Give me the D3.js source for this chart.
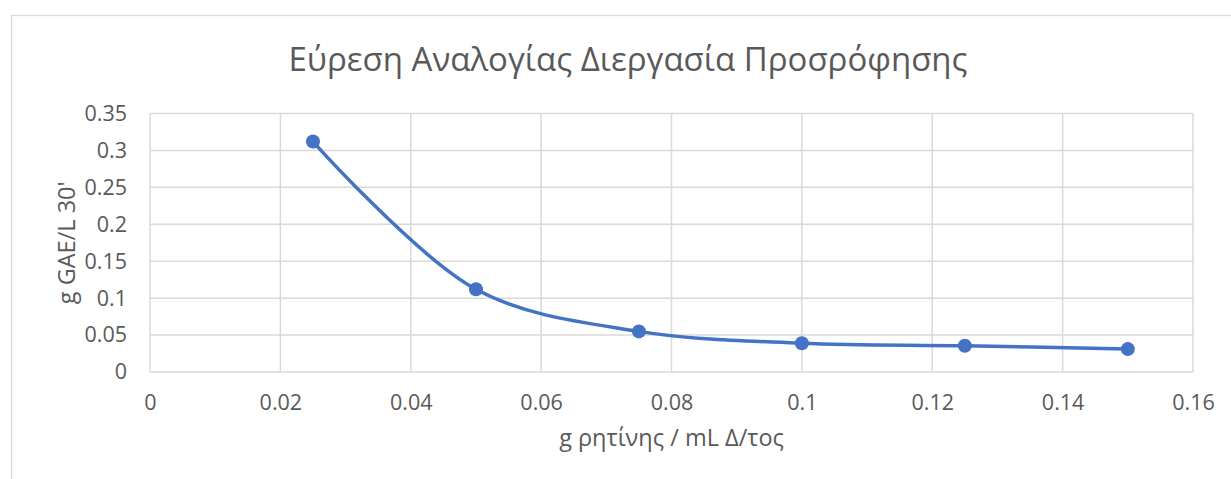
<!DOCTYPE html>
<html>
<head>
<meta charset="utf-8">
<script src="https://cdn.jsdelivr.net/npm/d3@7"></script>
<style>
  body { margin: 0; background: #fff; }
  svg text { font-family: "Open Sans", "Noto Sans", sans-serif; fill: #595959; }
</style>
</head>
<body>
<div id="chart"></div>
<script>
// data
const xValues = [0.025, 0.05, 0.075, 0.1, 0.125, 0.15];
const yValues = [0.312, 0.112, 0.055, 0.039, 0.0355, 0.031];
const xTicks = [0, 0.02, 0.04, 0.06, 0.08, 0.1, 0.12, 0.14, 0.16];
const yTicks = [0, 0.05, 0.1, 0.15, 0.2, 0.25, 0.3, 0.35];
const title = "Εύρεση Αναλογίας Διεργασία Προσρόφησης";
const xTitle = "g ρητίνης / mL Δ/τος";
const yTitle = "g GAE/L 30'";

const width = 1231, height = 479;
const margin = { top: 113.5, right: 38, bottom: 107, left: 150 };
const innerW = width - margin.left - margin.right;
const innerH = height - margin.top - margin.bottom;

const svg = d3.select("#chart")
  .append("svg")
  .attr("width", width)
  .attr("height", height);

// chart frame (clipped at the right and bottom like the screenshot)
svg.append("rect")
  .attr("x", 11.5)
  .attr("y", 15.5)
  .attr("width", 1260)
  .attr("height", 500)
  .attr("fill", "none")
  .attr("stroke", "#d9d9d9")
  .attr("stroke-width", 1.3);

const g = svg.append("g")
  .attr("transform", `translate(${margin.left},${margin.top})`);

// scales
const x = d3.scaleLinear().domain([0, 0.16]).range([0, innerW]);
const y = d3.scaleLinear().domain([0, 0.35]).range([innerH, 0]);

// gridlines
g.append("g")
  .selectAll("line.vgrid")
  .data(xTicks)
  .enter().append("line")
  .attr("class", "vgrid")
  .attr("x1", d => x(d)).attr("x2", d => x(d))
  .attr("y1", 0).attr("y2", innerH)
  .attr("stroke", "#d9d9d9")
  .attr("stroke-width", 1.5);

g.append("g")
  .selectAll("line.hgrid")
  .data(yTicks)
  .enter().append("line")
  .attr("class", "hgrid")
  .attr("x1", 0).attr("x2", innerW)
  .attr("y1", d => y(d)).attr("y2", d => y(d))
  .attr("stroke", "#d9d9d9")
  .attr("stroke-width", 1.5);

// axes
const xAxis = d3.axisBottom(x).tickValues(xTicks).tickSize(0).tickPadding(23).tickFormat(d3.format("~g"));
const yAxis = d3.axisLeft(y).tickValues(yTicks).tickSize(0).tickPadding(23).tickFormat(d3.format("~g"));

g.append("g")
  .attr("class", "x-axis")
  .attr("transform", `translate(0,${innerH})`)
  .call(xAxis)
  .call(a => a.select(".domain").remove())
  .selectAll("text")
  .style("font-size", "21.5px")
  .attr("fill", "#595959");

g.append("g")
  .attr("class", "y-axis")
  .call(yAxis)
  .call(a => a.select(".domain").remove())
  .selectAll("text")
  .style("font-size", "21.5px")
  .attr("fill", "#595959");

// line
const line = d3.line()
  .x((d, i) => x(xValues[i]))
  .y(d => y(d))
  .curve(d3.curveCatmullRom.alpha(0.5));

g.append("path")
  .datum(yValues)
  .attr("d", line)
  .attr("fill", "none")
  .attr("stroke", "#4472c4")
  .attr("stroke-width", 3.5)
  .attr("stroke-linecap", "round");

g.selectAll("circle.pt")
  .data(yValues)
  .enter().append("circle")
  .attr("class", "pt")
  .attr("cx", (d, i) => x(xValues[i]))
  .attr("cy", d => y(d))
  .attr("r", 7)
  .attr("fill", "#4472c4");

// titles
svg.append("text")
  .attr("x", 628)
  .attr("y", 71)
  .attr("text-anchor", "middle")
  .style("font-size", "33px")
  .text(title);

svg.append("text")
  .attr("x", margin.left + innerW / 2)
  .attr("y", 446)
  .attr("text-anchor", "middle")
  .style("font-size", "23.5px")
  .text(xTitle);

svg.append("text")
  .attr("transform", `translate(75,${margin.top + innerH / 2}) rotate(-90)`)
  .attr("text-anchor", "middle")
  .style("font-size", "23.5px")
  .text(yTitle);
</script>
</body>
</html>
